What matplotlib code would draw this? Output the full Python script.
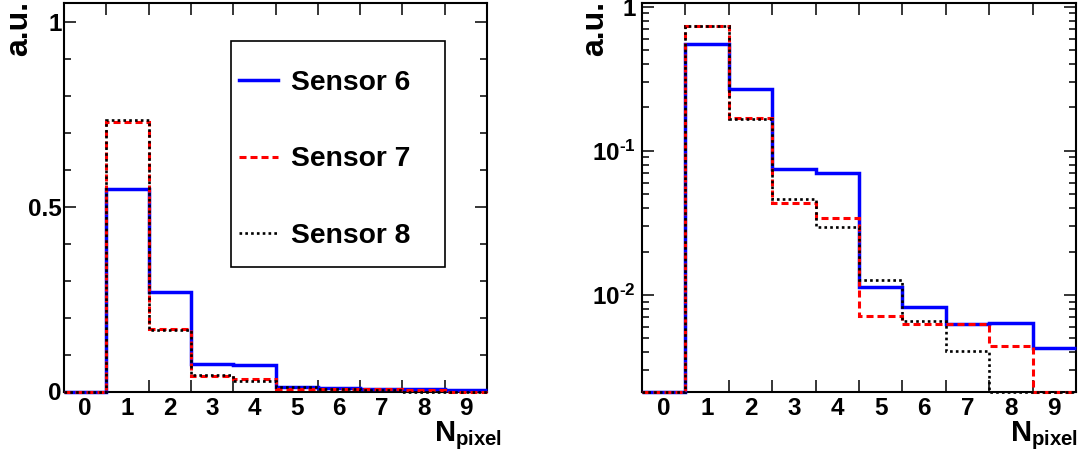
import numpy as np
import matplotlib
matplotlib.use("Agg")
import matplotlib.pyplot as plt
from matplotlib.lines import Line2D
from matplotlib.patches import Rectangle
from matplotlib.ticker import LogLocator, NullFormatter

plt.rcParams['font.family'] = ['Liberation Sans', 'DejaVu Sans']
plt.rcParams['font.weight'] = 'bold'
plt.rcParams['mathtext.fontset'] = 'custom'
plt.rcParams['mathtext.rm'] = 'Liberation Sans:bold'
plt.rcParams['mathtext.it'] = 'Liberation Sans:bold'
plt.rcParams['mathtext.bf'] = 'Liberation Sans:bold'

# ---- data (normalised N_pixel distributions) ----
bins = np.arange(10)                       # N_pixel = 0..9
tick_labels = [str(b) for b in bins]
sensor6 = [0.0, 0.548, 0.270, 0.0747, 0.0705, 0.0114, 0.0082, 0.0063, 0.0064, 0.0043]
sensor7 = [0.0, 0.730, 0.170, 0.0432, 0.0340, 0.0072, 0.0063, 0.0063, 0.0044, 0.0]
sensor8 = [0.0, 0.735, 0.167, 0.0460, 0.0297, 0.0126, 0.0066, 0.0041, 0.0, 0.0]
labels = ["Sensor 6", "Sensor 7", "Sensor 8"]

edges = np.append(bins - 0.5, bins[-1] + 0.5)

styles = [
    dict(color=(0, 0, 1), lw=2.5, ls='-'),
    dict(color=(1, 0, 0), lw=2.2, ls=(0, (2.3, 1.3))),
    dict(color='black', lw=1.9, ls=(0, (1, 1.2))),
]
series = [sensor6, sensor7, sensor8]

W, H = 1085, 459
fig = plt.figure(figsize=(W / 100, H / 100), dpi=100)
axL = fig.add_axes([64 / W, (H - 391.5) / H, (487 - 64) / W, (391.5 - 3.5) / H])
axR = fig.add_axes([642 / W, (H - 391.5) / H, (1076 - 642) / W, (391.5 - 3.5) / H])

LOG_MIN, YMAX = 0.00214, 1.05
TICK_FS = 17.5


def style_axes(ax):
    for sp in ax.spines.values():
        sp.set_linewidth(1.5)
    ax.set_xlim(edges[0], edges[-1])
    ax.set_xticks(bins, labels=tick_labels)
    ax.set_xticks(bins[:-1] + 0.5, minor=True)
    ax.tick_params(axis='x', which='major', length=0, pad=4, labelsize=TICK_FS)
    ax.tick_params(axis='x', which='minor', length=8.6, width=1.1,
                   direction='in', top=True, bottom=True)
    ax.tick_params(axis='y', which='both', direction='in', left=True, right=True,
                   width=1.1, labelsize=TICK_FS)
    ax.tick_params(axis='y', which='major', length=8.8)
    ax.tick_params(axis='y', which='minor', length=5.2)


# ---- left: linear ----
for vals, st in zip(series, styles):
    axL.stairs(vals, edges, baseline=None, color=st['color'], lw=st['lw'],
               linestyle=st['ls'], joinstyle='miter', zorder=3, clip_on=False)
style_axes(axL)
axL.set_ylim(0, YMAX)
axL.set_yticks([0, 0.5, 1], labels=['0', '0.5', '1'])
axL.set_yticks(np.arange(0.1, 1.05, 0.1), minor=True)
axL.tick_params(axis='y', which='major', pad=1.5)

# legend
axL.add_patch(Rectangle((0.394, 0.321), 0.507, 0.583, transform=axL.transAxes,
                        facecolor='white', edgecolor='black', lw=1.2, zorder=4))
handles = [Line2D([], [], color=st['color'], lw=st['lw'], linestyle=st['ls'])
           for st in styles]
leg = axL.legend(handles, labels, loc='upper left', bbox_to_anchor=(0.4137, 0.828),
                 frameon=False, fontsize=20.3, handlelength=1.4, handletextpad=0.45,
                 labelspacing=1.78, borderpad=0, borderaxespad=0)
leg.set_zorder(5)
for t in leg.get_texts():
    t.set_fontweight('bold')

# ---- right: log ----
for vals, st in zip(series, styles):
    v = np.where(np.asarray(vals) > 0, vals, LOG_MIN)
    axR.stairs(v, edges, baseline=None, color=st['color'], lw=st['lw'],
               linestyle=st['ls'], joinstyle='miter', zorder=3, clip_on=False)
axR.set_yscale('log')
style_axes(axR)
axR.set_ylim(LOG_MIN, YMAX)
axR.set_yticks([0.01, 0.1, 1],
               labels=['$10^{\u20102}$', '$10^{\u20101}$', '1'])
axR.yaxis.set_minor_locator(LogLocator(base=10, subs=np.arange(2, 10)))
axR.yaxis.set_minor_formatter(NullFormatter())
axR.tick_params(axis='y', which='major', pad=4.5)

# axis titles
for xr in (502, 1078):
    fig.text(xr / W, 1 - 441.7 / H, r'$N_{pixel}$', ha='right', va='baseline',
             fontsize=21)
for xc in (19, 595):
    fig.text(xc / W, 1 - 1 / H, 'a.u.', rotation=90, ha='center', va='top',
             fontsize=23, fontweight='bold')

fig.savefig('out.png', dpi=100)
